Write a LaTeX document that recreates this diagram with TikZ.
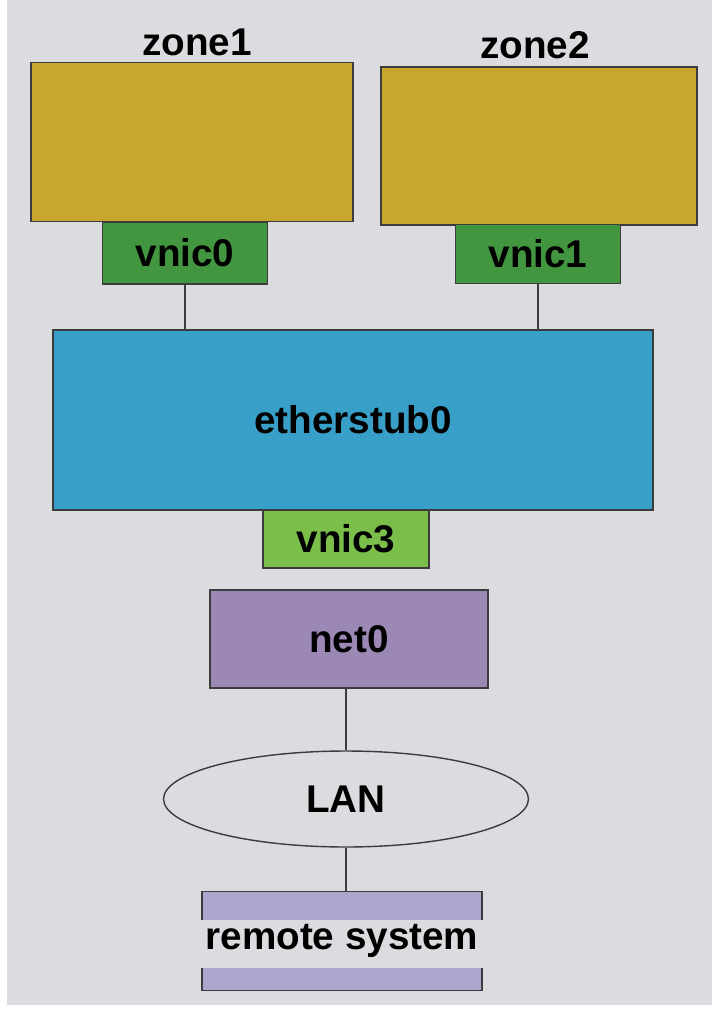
\documentclass[tikz,border=0pt]{standalone}
\usepackage{fontspec}
\setmainfont{Liberation Sans}
\usetikzlibrary{shapes.geometric}
\definecolor{bggray}{RGB}{220,220,224}
\definecolor{zoneyellow}{RGB}{201,166,45}
\definecolor{vnicgreen}{RGB}{66,150,64}
\definecolor{vnicgreenlt}{RGB}{124,190,74}
\definecolor{stubblue}{RGB}{56,160,200}
\definecolor{netpurple}{RGB}{156,136,180}
\definecolor{sysbar}{RGB}{172,166,206}
\definecolor{edge}{RGB}{60,60,60}
\tikzset{
  box/.style={draw=edge, line width=0.8pt, inner sep=0pt, font=\fontsize{22}{26}\selectfont\bfseries},
  title/.style={font=\fontsize{22}{26}\selectfont\bfseries},
  link/.style={draw=edge, line width=0.8pt}
}
\begin{document}
\begin{tikzpicture}[x=0.02cm, y=-0.02cm]
    % Background
    \fill[white] (0,0) rectangle (712,1012);
    \fill[bggray] (7,0) rectangle (712,1005);
    \useasboundingbox (0,0) rectangle (712,1012);

    % Zones
    \node[box, fill=zoneyellow, minimum width=6.44cm, minimum height=3.18cm] (zone1) at (192,142) {};
    \node[box, fill=zoneyellow, minimum width=6.32cm, minimum height=3.16cm] (zone2) at (539,146) {};
    \node[title] (zone1lbl) at (197,42) {zone1};
    \node[title] (zone2lbl) at (535,45) {zone2};

    % VNICs of the zones
    \node[box, fill=vnicgreen, minimum width=3.3cm, minimum height=1.24cm] (vnic0) at (185,253) {vnic0};
    \node[box, fill=vnicgreen, minimum width=3.3cm, minimum height=1.18cm] (vnic1) at (538,254) {vnic1};

    % Etherstub
    \node[box, fill=stubblue, minimum width=12cm, minimum height=3.6cm] (stub) at (353,420) {etherstub0};
    \node[box, fill=vnicgreenlt, minimum width=3.32cm, minimum height=1.16cm] (vnic3) at (346,539) {vnic3};

    % Physical side
    \node[box, fill=netpurple, minimum width=5.56cm, minimum height=1.96cm] (net0) at (349,639) {net0};
    \node[box, ellipse, minimum width=7.3cm, minimum height=1.92cm] (lan) at (346,799) {LAN};
    \node[title, minimum width=5.58cm, minimum height=1.96cm, inner sep=0pt] (remote) at (342,941) {remote system};
    \fill[sysbar] (remote.north west) rectangle ([yshift=-0.56cm]remote.north east);
    \fill[sysbar] (remote.south west) rectangle ([yshift=0.44cm]remote.south east);
    \draw[link] ([yshift=-0.56cm]remote.north west) -- (remote.north west) -- (remote.north east) -- ([yshift=-0.56cm]remote.north east);
    \draw[link] ([yshift=0.44cm]remote.south west) -- (remote.south west) -- (remote.south east) -- ([yshift=0.44cm]remote.south east);

    % Links
    \draw[link] (vnic0) -- (vnic0 |- stub.north);
    \draw[link] (vnic1) -- (vnic1 |- stub.north);
    \draw[link] (net0.south -| lan) -- (lan);
    \draw[link] (lan.south) -- (remote.north -| lan.south);
\end{tikzpicture}
\end{document}
